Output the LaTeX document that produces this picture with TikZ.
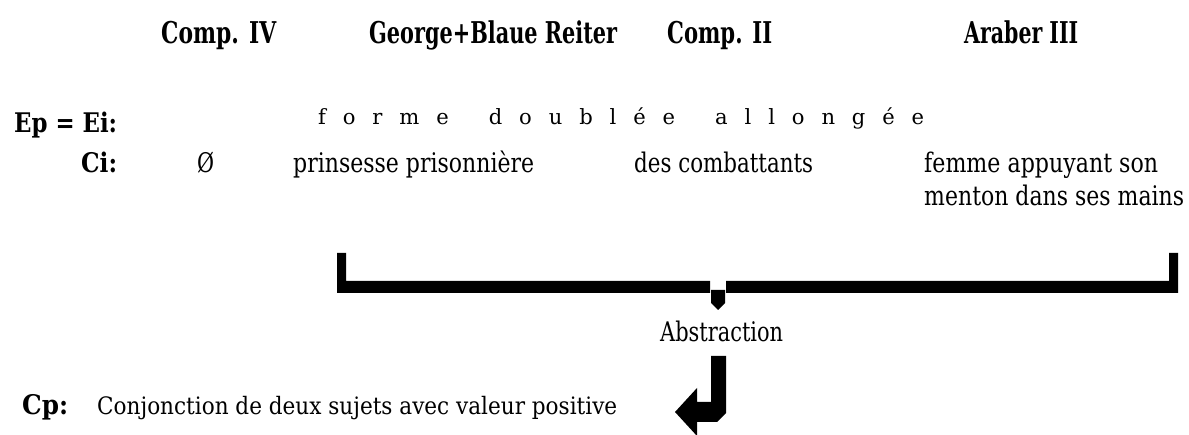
\documentclass[tikz,border=0pt]{standalone}
\usepackage{fontspec}
\usepackage{graphicx}
\setmainfont{DejaVu Serif}
\newlength\fitlen
\newcommand\fitw[2]{\settowidth\fitlen{#2}\pgfmathsetmacro\fitratio{#1/\fitlen}\scalebox{\fitratio}[1]{#2}}
\newcommand\lsp{\hskip 0.8em}
\tikzset{
  hd/.style={anchor=base west, inner sep=0pt, font=\fontsize{30}{30}\selectfont\bfseries},
  lb/.style={anchor=base west, inner sep=0pt, font=\fontsize{27}{27}\selectfont\bfseries},
  tx/.style={anchor=base west, inner sep=0pt, font=\fontsize{27}{27}\selectfont},
  txs/.style={anchor=base west, inner sep=0pt, font=\fontsize{24}{24}\selectfont},
  spc/.style={anchor=base west, inner sep=0pt, font=\fontsize{21}{21}\selectfont},
  ink/.style={fill=black, draw=none}
}
\begin{document}
\begin{tikzpicture}[x=1pt,y=-1pt]
\useasboundingbox (0,0) rectangle (1189,435);
\fill[white] (0,0) rectangle (1189,435);
% headers
\node[hd] (c4) at (161,44) {\fitw{115}{Comp. IV}};
\node[hd] (gb) at (369,44) {\fitw{248}{George+Blaue Reiter}};
\node[hd] (c2) at (667,44) {\fitw{105}{Comp. II}};
\node[hd] (a3) at (964,44) {\fitw{114}{Araber III}};
% Ep = Ei line
\node[lb] (ep) at (14,133) {\fitw{103}{Ep = Ei:}};
\node[spc] (fo) at (318,125) {\fitw{606}{f\lsp o\lsp r\lsp m\lsp e\lsp\hskip0.3em\lsp d\lsp o\lsp u\lsp b\lsp l\lsp é\lsp e\lsp\hskip0.3em\lsp a\lsp l\lsp l\lsp o\lsp n\lsp g\lsp é\lsp e}};
% Ci line
\node[lb] (ci) at (81,173) {\fitw{36}{Ci:}};
\node[tx] (oe) at (197,173) {\fitw{17}{Ø}};
\node[tx] (pp) at (293,173) {\fitw{241}{prinsesse prisonnière}};
\node[tx] (dc) at (634,173) {\fitw{179}{des combattants}};
\node[tx] (fe) at (924,173) {\fitw{234}{femme appuyant son}};
\node[tx] (me) at (924,206) {\fitw{260}{menton dans ses mains}};
% bracket
\fill[ink] (337,253) -- (346,253) -- (346,281) -- (710,281) -- (710,293) -- (337,293) -- cycle;
\fill[ink] (726,281) -- (1169,281) -- (1169,253) -- (1178,253) -- (1178,293) -- (726,293) -- cycle;
\fill[ink] (711,290) -- (725,290) -- (725,303) -- (718,310) -- (711,303) -- cycle;
% abstraction
\node[tx] (ab) at (660,342) {\fitw{123}{Abstraction}};
% bent arrow
\fill[ink] (711,356) -- (726,356) -- (726,413) -- (717,422) -- (697,422) -- (697,436) -- (675,412) -- (697,388) -- (697,402) -- (711,402) -- cycle;
% Cp line
\node[lb] (cp) at (22,415) {\fitw{46}{Cp:}};
\node[txs] (cj) at (97,415) {\fitw{520}{Conjonction de deux sujets avec valeur positive}};
\end{tikzpicture}
\end{document}
